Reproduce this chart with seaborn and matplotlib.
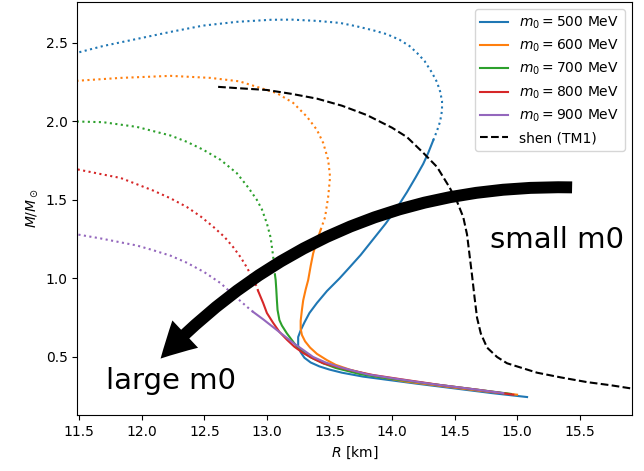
import matplotlib
matplotlib.use("Agg")
import matplotlib.pyplot as plt
import seaborn as sns
from matplotlib.patches import FancyArrowPatch

# ---- data ----
m0_values = [500, 600, 700, 800, 900]
colors = ["#1f77b4", "#ff7f0e", "#2ca02c", "#d62728", "#9467bd"]

# stable (solid) branches
R_solid_500 = [15.08, 14.80, 14.50, 14.20, 13.96, 13.77, 13.60, 13.50, 13.42, 13.35, 13.30, 13.27, 13.25, 13.25,
               13.27, 13.30, 13.34, 13.40, 13.48, 13.58, 13.66, 13.75, 13.85, 13.95, 14.04, 14.12, 14.19, 14.25, 14.29, 14.33]
M_solid_500 = [0.245, 0.27, 0.30, 0.33, 0.355, 0.375, 0.40, 0.42, 0.44, 0.465, 0.495, 0.53, 0.57, 0.627,
               0.67, 0.72, 0.78, 0.844, 0.92, 1.00, 1.07, 1.15, 1.25, 1.35, 1.45, 1.55, 1.645, 1.73, 1.80, 1.88]
R_solid_600 = [15.00, 14.70, 14.40, 14.10, 13.85, 13.66, 13.55, 13.48, 13.40, 13.345, 13.305, 13.28, 13.27, 13.27,
               13.28, 13.29, 13.31, 13.33, 13.35, 13.37, 13.40, 13.43]
M_solid_600 = [0.26, 0.285, 0.315, 0.345, 0.38, 0.42, 0.45, 0.48, 0.52, 0.56, 0.60, 0.64, 0.68, 0.73,
               0.80, 0.86, 0.93, 0.99, 1.08, 1.16, 1.24, 1.31]
R_solid_700 = [14.95, 14.60, 14.30, 14.00, 13.75, 13.55, 13.45, 13.345, 13.24, 13.16, 13.12, 13.10, 13.085,
               13.08, 13.075, 13.07, 13.065]
M_solid_700 = [0.265, 0.30, 0.33, 0.36, 0.39, 0.43, 0.46, 0.50, 0.565, 0.65, 0.70, 0.735, 0.80,
               0.86, 0.93, 0.99, 1.02]
R_solid_800 = [14.97, 14.70, 14.40, 14.10, 13.85, 13.66, 13.55, 13.45, 13.37, 13.29, 13.22, 13.16, 13.10,
               13.05, 13.00, 12.97, 12.93]
M_solid_800 = [0.26, 0.29, 0.32, 0.355, 0.385, 0.417, 0.44, 0.46, 0.49, 0.525, 0.565, 0.61, 0.66,
               0.717, 0.78, 0.844, 0.92]
R_solid_900 = [14.89, 14.60, 14.30, 14.00, 13.80, 13.58, 13.47, 13.37, 13.29, 13.21, 13.13, 13.05, 12.97, 12.89]
M_solid_900 = [0.27, 0.30, 0.33, 0.365, 0.39, 0.436, 0.465, 0.50, 0.545, 0.59, 0.64, 0.69, 0.74, 0.787]

# unstable (dotted) branches
R_dot_500 = [14.33, 14.36, 14.385, 14.40, 14.40, 14.385, 14.36, 14.32, 14.26, 14.20, 14.14, 14.06, 13.96, 13.85,
             13.72, 13.585, 13.40, 13.20, 13.03, 12.76, 12.49, 12.23, 11.96, 11.69, 11.45]
M_dot_500 = [1.88, 1.94, 2.00, 2.07, 2.13, 2.19, 2.25, 2.31, 2.385, 2.436, 2.48, 2.52, 2.555, 2.58,
             2.605, 2.627, 2.64, 2.648, 2.647, 2.634, 2.61, 2.57, 2.525, 2.48, 2.43]
R_dot_600 = [13.43, 13.465, 13.49, 13.505, 13.49, 13.45, 13.40, 13.32, 13.21, 13.08, 12.92, 12.78, 12.55,
             12.23, 11.83, 11.45]
M_dot_600 = [1.31, 1.39, 1.52, 1.646, 1.755, 1.863, 1.946, 2.03, 2.118, 2.18, 2.22, 2.255, 2.277,
             2.29, 2.277, 2.257]
R_dot_700 = [13.065, 13.05, 13.03, 13.00, 12.96, 12.92, 12.85, 12.76, 12.63, 12.49, 12.36, 12.23, 11.96,
             11.69, 11.45]
M_dot_700 = [1.02, 1.14, 1.26, 1.35, 1.44, 1.50, 1.58, 1.67, 1.755, 1.82, 1.87, 1.91, 1.965,
             1.995, 2.00]
R_dot_800 = [12.93, 12.92, 12.88, 12.84, 12.79, 12.73, 12.66, 12.57, 12.47, 12.36, 12.23, 12.09, 11.96,
             11.83, 11.67, 11.45]
M_dot_800 = [0.92, 0.946, 1.01, 1.07, 1.135, 1.20, 1.265, 1.33, 1.395, 1.455, 1.51, 1.56, 1.60,
             1.64, 1.665, 1.70]
R_dot_900 = [12.89, 12.84, 12.74, 12.63, 12.50, 12.36, 12.23, 12.09, 11.96, 11.83, 11.67, 11.45]
M_dot_900 = [0.787, 0.82, 0.89, 0.97, 1.04, 1.10, 1.145, 1.18, 1.21, 1.23, 1.255, 1.285]

# Shen (TM1) EOS
R_shen = [12.61, 12.80, 13.00, 13.20, 13.40, 13.60, 13.80, 14.00, 14.12, 14.25, 14.36, 14.46, 14.52, 14.57,
          14.60, 14.62, 14.64, 14.66, 14.68, 14.71, 14.76, 14.84, 14.92, 15.04, 15.16, 15.35, 15.56, 15.75, 15.95]
M_shen = [2.22, 2.21, 2.20, 2.175, 2.145, 2.10, 2.04, 1.96, 1.90, 1.80, 1.71, 1.58, 1.49, 1.39,
          1.28, 1.15, 1.02, 0.88, 0.75, 0.65, 0.56, 0.50, 0.46, 0.43, 0.40, 0.37, 0.34, 0.32, 0.295]

solids = [(R_solid_500, M_solid_500), (R_solid_600, M_solid_600), (R_solid_700, M_solid_700),
          (R_solid_800, M_solid_800), (R_solid_900, M_solid_900)]
dots = [(R_dot_500, M_dot_500), (R_dot_600, M_dot_600), (R_dot_700, M_dot_700),
        (R_dot_800, M_dot_800), (R_dot_900, M_dot_900)]

fig = plt.figure(figsize=(6.44, 4.71), dpi=100)
ax = fig.add_axes([0.12, 0.119, 0.861, 0.877])

for m0, c, (rs, ms), (rd, md) in zip(m0_values, colors, solids, dots):
    sns.lineplot(x=rs, y=ms, sort=False, estimator=None, color=c, lw=1.5,
                 label=rf"$m_0 = {m0}$ MeV", ax=ax)
    sns.lineplot(x=rd, y=md, sort=False, estimator=None, color=c, lw=1.5,
                 linestyle=":", ax=ax)

sns.lineplot(x=R_shen, y=M_shen, sort=False, estimator=None, color="black", lw=1.5,
             linestyle="--", label="shen (TM1)", ax=ax)

ax.set_xlim(11.484, 15.917)
ax.set_ylim(0.131, 2.761)
ax.set_xticks([11.5, 12.0, 12.5, 13.0, 13.5, 14.0, 14.5, 15.0, 15.5])
ax.set_yticks([0.5, 1.0, 1.5, 2.0, 2.5])
ax.set_xlabel(r"$R$ [km]")
ax.set_ylabel(r"$M/M_\odot$")
ax.legend(loc="upper right")

arrow = FancyArrowPatch(posA=(15.44, 1.58), posB=(12.15, 0.49),
                        connectionstyle="arc3,rad=0.22",
                        arrowstyle="simple,head_length=25,head_width=27,tail_width=8.6",
                        mutation_scale=1, shrinkA=0, shrinkB=0,
                        color="black", lw=0, zorder=5)
ax.add_patch(arrow)

ax.text(14.78, 1.245, "small m0", fontsize=21, va="center", ha="left", color="black")
ax.text(11.71, 0.35, "large m0", fontsize=21, va="center", ha="left", color="black")

fig.savefig("out.png", dpi=100)
